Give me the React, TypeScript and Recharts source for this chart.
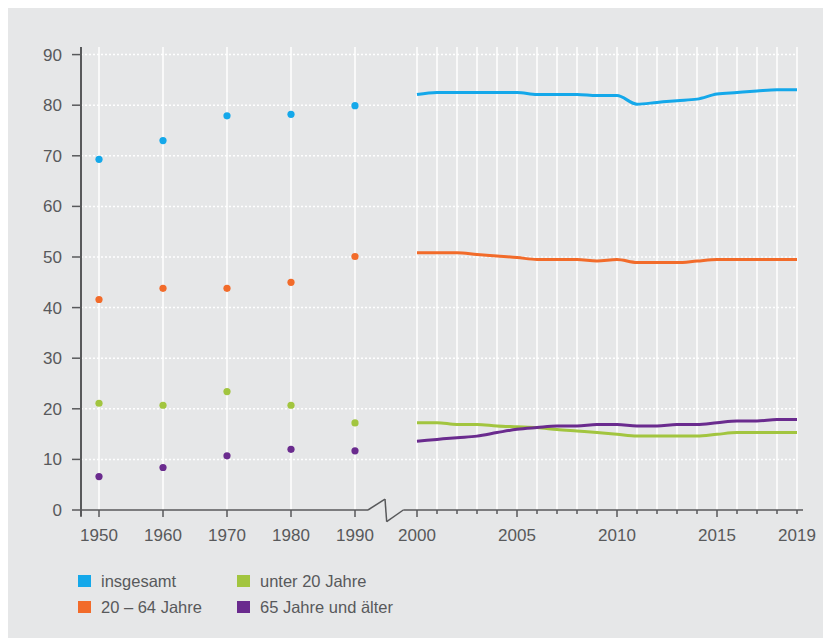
import React from 'react';
import { ComposedChart, Line, XAxis, YAxis, CartesianGrid, ReferenceLine } from 'recharts';

// ---- data ----
const decadeYears = [1950, 1960, 1970, 1980, 1990];
const decadeTotal = [69.3, 73.0, 77.9, 78.2, 79.9];
const decadeWorking = [41.6, 43.8, 43.8, 45.0, 50.1];
const decadeYoung = [21.1, 20.7, 23.4, 20.7, 17.2];
const decadeOld = [6.6, 8.4, 10.7, 12.0, 11.7];

const annualYears = [2000, 2001, 2002, 2003, 2004, 2005, 2006, 2007, 2008, 2009, 2010, 2011, 2012, 2013, 2014, 2015, 2016, 2017, 2018, 2019];
const annualTotal = [82.1, 82.5, 82.5, 82.5, 82.5, 82.5, 82.1, 82.1, 82.1, 81.9, 81.9, 80.2, 80.55, 80.9, 81.2, 82.2, 82.5, 82.8, 83.05, 83.05];
const annualWorking = [50.85, 50.85, 50.85, 50.5, 50.2, 49.9, 49.5, 49.5, 49.5, 49.2, 49.5, 48.9, 48.9, 48.9, 49.2, 49.5, 49.5, 49.5, 49.5, 49.5];
const annualYoung = [17.25, 17.25, 16.9, 16.9, 16.6, 16.45, 16.3, 15.9, 15.6, 15.3, 14.95, 14.6, 14.6, 14.6, 14.6, 14.95, 15.3, 15.3, 15.3, 15.3];
const annualOld = [13.6, 13.95, 14.3, 14.6, 15.3, 15.95, 16.3, 16.6, 16.6, 16.9, 16.9, 16.6, 16.6, 16.9, 16.9, 17.25, 17.6, 17.6, 17.9, 17.9];

const labeledYears = [1950, 1960, 1970, 1980, 1990, 2000, 2005, 2010, 2015, 2019];
const majorTickYears = [1950, 1960, 1970, 1980, 1990, 2000, 2005, 2010, 2015];
const yTicks = [0, 10, 20, 30, 40, 50, 60, 70, 80, 90];

const seriesNames = ['insgesamt', '20 – 64 Jahre', 'unter 20 Jahre', '65 Jahre und älter'];
const COLORS = ['#14a8ea', '#f26b2a', '#a2c53f', '#6a2b8e'];

// ---- broken x scale: decades compressed, years from 2000 on ----
const DECADE_STEP = 3.2;
const BREAK_GAP = 3.1;
const pos = (year: number) =>
  year < 2000 ? ((year - 1950) / 10) * DECADE_STEP : 4 * DECADE_STEP + BREAK_GAP + (year - 2000);

const data = [
  ...decadeYears.map((y, i) => ({
    pos: pos(y),
    totD: decadeTotal[i],
    workD: decadeWorking[i],
    youngD: decadeYoung[i],
    oldD: decadeOld[i],
  })),
  ...annualYears.map((y, i) => ({
    pos: pos(y),
    tot: annualTotal[i],
    work: annualWorking[i],
    young: annualYoung[i],
    old: annualOld[i],
  })),
];

const tickYears = [...decadeYears, ...annualYears];
const xTicks = tickYears.map(pos);
const X_MIN = -0.9;
const X_MAX = pos(2019);
const Y_MAX = 91.5;
const AXIS = '#58595b';
const FONT = '"Liberation Sans", Arial, Helvetica, sans-serif';

const yearAt = (v: number) => tickYears.find((y) => Math.abs(pos(y) - v) < 1e-6);

const XTick = (props: any) => {
  const { x, y, payload } = props;
  const year = yearAt(payload.value);
  if (year === undefined) return null;
  const len = majorTickYears.includes(year) ? 7 : 4;
  return (
    <g>
      <line x1={x} x2={x} y1={y} y2={y + len} stroke={AXIS} strokeWidth={1.5} />
      {labeledYears.includes(year) && (
        <text x={x} y={y + 31} textAnchor="middle" fill={AXIS} fontSize={17} fontFamily={FONT}>
          {year}
        </text>
      )}
    </g>
  );
};

const makeDot = (color: string) => (p: any) => {
  if (p.value === undefined || p.value === null || p.cy === undefined || p.cy === null) return <g key={p.key} />;
  return <circle key={p.key} cx={p.cx} cy={p.cy} r={3.6} fill={color} />;
};

// break symbol / axis line in data units
const breakStart = 13.45;
const breakUp = { x: 14.3, y: 2.17 };
const breakDown = { x: 14.385, y: -2.31 };
const breakEnd = 15.215;
const axisRightEnd = 35.2;

export default function App() {
  const lineKeys = ['tot', 'work', 'young', 'old'];
  const dotKeys = ['totD', 'workD', 'youngD', 'oldD'];
  return (
    <div style={{ position: 'relative', width: 823, height: 630, background: '#e6e7e8', fontFamily: FONT }}>
      <ComposedChart width={823} height={545} data={data} margin={{ top: 39, right: 34, left: 13, bottom: 13 }}>
        <CartesianGrid horizontal={false} vertical stroke="#ffffff" strokeWidth={1.5} />
        {yTicks
          .filter((v) => v > 0)
          .map((v) => (
            <ReferenceLine key={'h' + v} y={v} stroke="#ffffff" strokeWidth={1.5} strokeDasharray="2 2" />
          ))}
        <XAxis
          type="number"
          dataKey="pos"
          domain={[X_MIN, X_MAX]}
          ticks={xTicks}
          interval={0}
          allowDataOverflow
          axisLine={false}
          tickLine={false}
          tickSize={0}
          tickMargin={0}
          height={30}
          tick={<XTick />}
        />
        <YAxis
          type="number"
          domain={[0, Y_MAX]}
          ticks={yTicks}
          interval={0}
          allowDataOverflow
          axisLine={false}
          tickLine={{ stroke: AXIS, strokeWidth: 1.5 }}
          tickSize={9}
          tickMargin={10}
          width={60}
          tick={{ fill: AXIS, fontSize: 17, fontFamily: FONT }}
        />
        {/* axis lines with break symbol */}
        <ReferenceLine
          segment={[{ x: X_MIN, y: -1.35 }, { x: X_MIN, y: Y_MAX }]}
          stroke={AXIS}
          strokeWidth={2}
          ifOverflow="visible"
        />
        <ReferenceLine segment={[{ x: X_MIN, y: 0 }, { x: breakStart, y: 0 }]} stroke={AXIS} strokeWidth={1.5} ifOverflow="visible" />
        <ReferenceLine segment={[{ x: breakStart, y: 0 }, { x: breakUp.x, y: breakUp.y }]} stroke={AXIS} strokeWidth={1.5} ifOverflow="visible" />
        <ReferenceLine segment={[{ x: breakUp.x, y: breakUp.y }, { x: breakDown.x, y: breakDown.y }]} stroke={AXIS} strokeWidth={1.5} ifOverflow="visible" />
        <ReferenceLine segment={[{ x: breakDown.x, y: breakDown.y }, { x: breakEnd, y: 0 }]} stroke={AXIS} strokeWidth={1.5} ifOverflow="visible" />
        <ReferenceLine segment={[{ x: breakEnd, y: 0 }, { x: axisRightEnd, y: 0 }]} stroke={AXIS} strokeWidth={1.5} ifOverflow="visible" />

        {lineKeys.map((k, i) => (
          <Line
            key={k}
            dataKey={k}
            name={seriesNames[i]}
            type="monotone"
            stroke={COLORS[i]}
            strokeWidth={3}
            dot={false}
            activeDot={false}
            connectNulls={false}
            isAnimationActive={false}
          />
        ))}
        {dotKeys.map((k, i) => (
          <Line
            key={k}
            dataKey={k}
            name={seriesNames[i]}
            stroke="none"
            dot={makeDot(COLORS[i])}
            activeDot={false}
            isAnimationActive={false}
          />
        ))}
      </ComposedChart>
      {seriesNames.map((name, i) => {
        const col = i === 0 || i === 1 ? 0 : 1;
        const row = i === 0 || i === 2 ? 0 : 1;
        const left = col === 0 ? 70 : 229;
        const top = row === 0 ? 566 : 592;
        return (
          <div key={name} style={{ position: 'absolute', left, top, display: 'flex', alignItems: 'center', height: 14 }}>
            <div style={{ width: 13, height: 12, background: COLORS[i] }} />
            <span style={{ marginLeft: 10, fontSize: 16.5, color: AXIS, whiteSpace: 'nowrap', lineHeight: '14px' }}>{name}</span>
          </div>
        );
      })}
    </div>
  );
}
